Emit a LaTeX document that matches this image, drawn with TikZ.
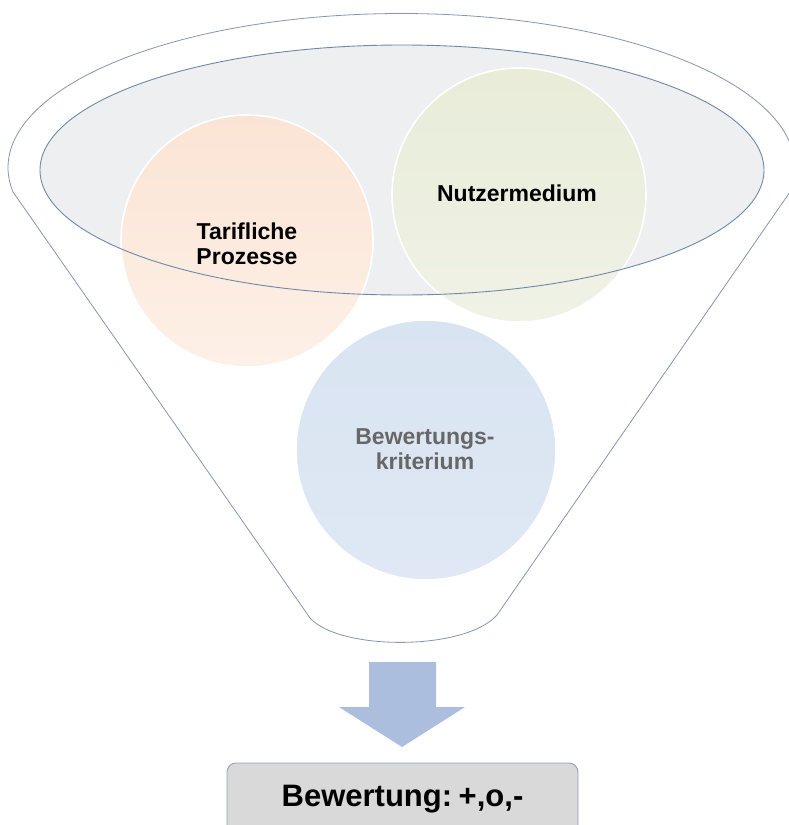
\documentclass[tikz,border=0pt]{standalone}
\usepackage{fontspec}
\setmainfont{Liberation Sans}
\usetikzlibrary{shapes.geometric}
\definecolor{funnelline}{HTML}{8496B0}
\definecolor{ellline}{HTML}{6F88AA}
\definecolor{ellfill}{HTML}{EEEFF1}
\definecolor{orTop}{HTML}{FBE4D4}
\definecolor{orBot}{HTML}{FDF0E7}
\definecolor{grTop}{HTML}{E8ECD8}
\definecolor{grBot}{HTML}{EFF2E6}
\definecolor{blTop}{HTML}{D9E4F2}
\definecolor{blBot}{HTML}{DFE8F4}
\definecolor{arrowblue}{HTML}{ACBEDD}
\definecolor{boxfill}{HTML}{D9D9D9}
\definecolor{boxline}{HTML}{8FA3C0}
\definecolor{greytext}{HTML}{676767}
\tikzset{
  funnel/.style={draw=funnelline, line width=0.8pt, fill=white},
  circ/.style={circle, draw=white, line width=1.6pt, inner sep=0pt},
  lbl/.style={font=\fontsize{23}{25}\selectfont\bfseries, align=center, inner sep=0pt},
  resbox/.style={draw=boxline, fill=boxfill, line width=0.9pt, rounded corners=9pt}
}
\begin{document}
\begin{tikzpicture}[x=1pt,y=-1pt]
\useasboundingbox (0,0) rectangle (789,825);
\clip (0,0) rectangle (789,825);
% outer funnel
\draw[funnel] plot[domain=170.85:369.15, samples=150] ({401.5+393.5*cos(\x)},{167.5+154*sin(\x)})
  -- (497,615) .. controls (465,651) and (340,651) .. (310,618) -- cycle;
% inner ellipse fill
\node[ellipse, fill=ellfill, minimum width=724pt, minimum height=250pt, inner sep=0pt] (ell) at (402,170) {};
% circles
\node[circ, minimum size=252pt, top color=orTop, bottom color=orBot] (c1) at (247,241) {};
\node[circ, minimum size=254pt, top color=grTop, bottom color=grBot] (c2) at (519,195) {};
\node[circ, minimum size=260pt, top color=blTop, bottom color=blBot] (c3) at (426,450) {};
% ellipse outline on top
\node[ellipse, draw=ellline, line width=0.9pt, minimum width=724pt, minimum height=250pt, inner sep=0pt] (ello) at (402,170) {};
% labels
\node[lbl] (t1) at (247,244) {Tarifliche\\Prozesse};
\node[lbl] (t2) at (517,193.6) {Nutzermedium};
\node[lbl, text=greytext] (t3) at (425,449) {Bewertungs-\\kriterium};
% block arrow
\fill[arrowblue] (369,662) -- (436,662) -- (436,707) -- (465,707) -- (402,747) -- (339,707) -- (369,707) -- cycle;
% result box
\draw[resbox] (227,763) rectangle (578,860);
\node[font=\fontsize{31}{34}\selectfont\bfseries, anchor=base, inner sep=0pt] (res) at (402.5,806) {\spaceskip=0.12em Bewertung: +,o,-};
\end{tikzpicture}
\end{document}
